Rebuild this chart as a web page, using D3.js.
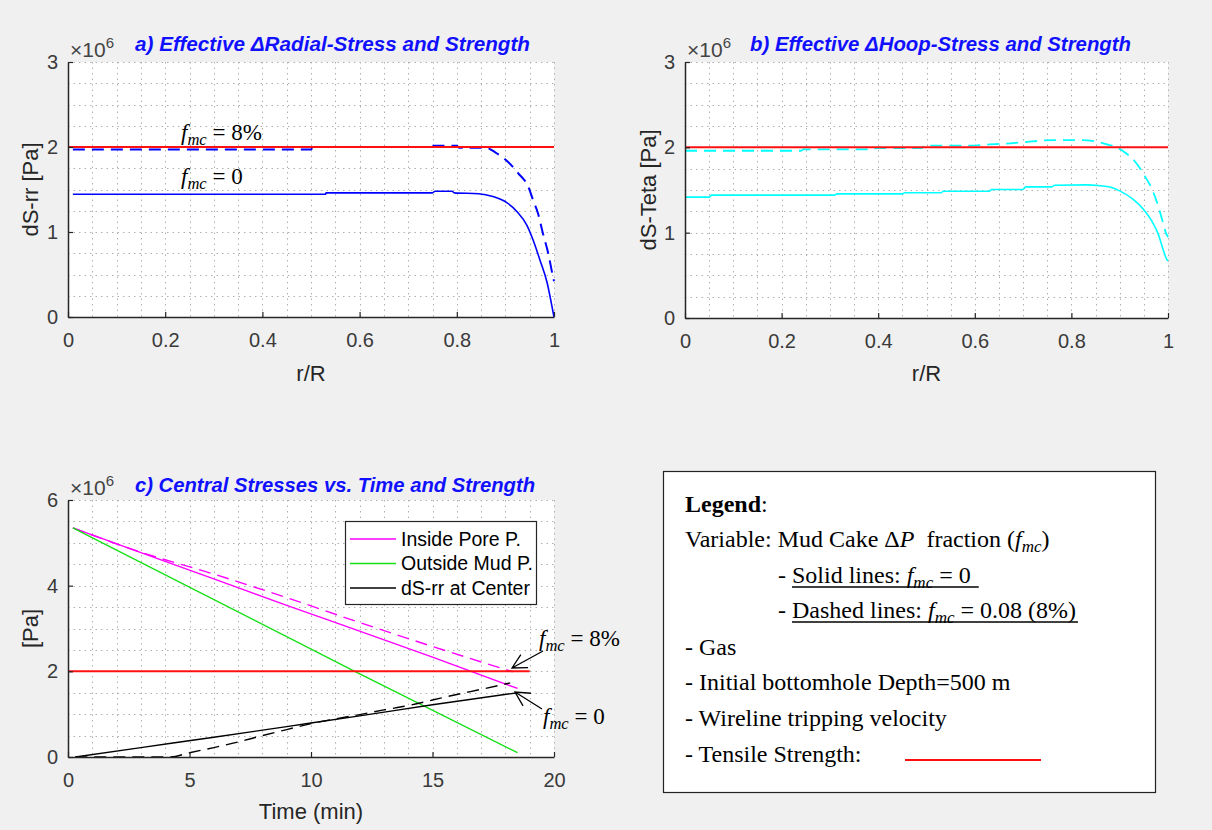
<!DOCTYPE html>
<html><head><meta charset="utf-8">
<script src="https://cdn.jsdelivr.net/npm/d3@7"></script>
<style>
html,body{margin:0;padding:0;background:#f0f0f0;}
svg{display:block;}
</style></head><body>
<svg id="fig" width="1212" height="830"></svg>
<script>
// ---- Data (stresses in units of 10^6 Pa) ----
// a) effective radial stress change vs r/R
const radialSolidR = [0.01, 0.53, 0.531, 0.75, 0.755, 0.79, 0.795, 0.845, 0.874, 0.903, 0.924, 0.944, 0.957, 0.971, 0.986, 0.998, 1.0];
const radialSolidS = [1.445, 1.445, 1.46, 1.46, 1.48, 1.48, 1.46, 1.45, 1.418, 1.345, 1.239, 1.082, 0.906, 0.671, 0.40, 0.059, 0.0];
const radialDashR = [0.01, 0.5, 0.505, 0.735, 0.74, 0.80, 0.805, 0.86, 0.879, 0.905, 0.926, 0.947, 0.957, 0.967, 0.977, 0.988, 0.998, 1.0];
const radialDashS = [1.97, 1.97, 2.0, 2.0, 2.015, 2.015, 1.99, 1.99, 1.938, 1.827, 1.694, 1.533, 1.376, 1.22, 0.988, 0.753, 0.47, 0.42];

// b) effective hoop stress change vs r/R
const hoopSolidR = [0.0, 0.05, 0.055, 0.31, 0.315, 0.45, 0.455, 0.53, 0.535, 0.63, 0.635, 0.70, 0.705, 0.76, 0.765, 0.83, 0.86, 0.88, 0.90, 0.928, 0.949, 0.966, 0.98, 0.99, 0.997, 1.0];
const hoopSolidS = [1.416, 1.416, 1.44, 1.44, 1.455, 1.455, 1.467, 1.467, 1.486, 1.486, 1.506, 1.506, 1.537, 1.537, 1.556, 1.56, 1.55, 1.535, 1.49, 1.39, 1.275, 1.14, 0.98, 0.80, 0.69, 0.67];
const hoopDashR = [0.0, 0.24, 0.245, 0.39, 0.395, 0.49, 0.495, 0.60, 0.62, 0.68, 0.72, 0.76, 0.82, 0.85, 0.87, 0.894, 0.911, 0.935, 0.95, 0.966, 0.977, 0.987, 0.997, 1.0];
const hoopDashS = [1.96, 1.96, 1.975, 1.975, 1.99, 1.99, 2.02, 2.02, 2.03, 2.05, 2.07, 2.085, 2.085, 2.07, 2.04, 2.0, 1.94, 1.81, 1.68, 1.52, 1.36, 1.17, 0.98, 0.95];

// c) central stresses vs time (min)
const poreSolidT = [0.2, 3, 6, 9, 12, 15, 18.5];
const poreSolidP = [5.35, 4.77, 4.16, 3.54, 2.94, 2.33, 1.60];
const poreDashT = [0.2, 3, 6, 9, 12, 15, 18.3];
const poreDashP = [5.35, 4.78, 4.27, 3.72, 3.14, 2.58, 1.99];
const mudT = [0.2, 11.8, 18.5];
const mudP = [5.35, 2.0, 0.1];
const centerSolidT = [0.3, 3, 6, 9, 12, 15, 18.5];
const centerSolidS = [0.0, 0.22, 0.46, 0.71, 0.96, 1.22, 1.50];
const centerDashT = [0.3, 4.2, 5, 6, 7, 8, 9, 10, 11, 12, 13, 14, 15, 16, 17, 18.2];
const centerDashS = [0.0, 0.0, 0.1, 0.22, 0.35, 0.5, 0.64, 0.78, 0.89, 0.99, 1.1, 1.2, 1.33, 1.46, 1.58, 1.73];

// tensile strength
const strengthValue = 2.0;
const strengthSpanR = [0, 1];
const strengthSpanT = [0, 19];

// ticks
const rTicks = [0, 0.2, 0.4, 0.6, 0.8, 1];
const stressTicksAB = [0, 1, 2, 3];
const timeTicks = [0, 5, 10, 15, 20];
const stressTicksC = [0, 2, 4, 6];

const legendLabels = ["Inside Pore P.", "Outside Mud P.", "dS-rr at Center"];
const legendColors = ["#ff00ff", "#16e016", "#000000"];

// ---- Drawing ----
const svg = d3.select("#fig");
svg.append("rect").attr("width", 1212).attr("height", 830).attr("fill", "#f0f0f0");

const AXIS_COL = "#262626";
const SANS = "'Liberation Sans', Arial, sans-serif";
const SERIF = "'Liberation Serif', 'Times New Roman', serif";

function makePanel(o) {
  const x = d3.scaleLinear().domain(o.xDomain).range([o.left, o.right]);
  const y = d3.scaleLinear().domain(o.yDomain).range([o.bottom, o.top]);
  const g = svg.append("g");
  g.append("rect").attr("x", o.left).attr("y", o.top)
    .attr("width", o.right - o.left).attr("height", o.bottom - o.top).attr("fill", "#fff");

  const xMinor = d3.range(o.xDomain[0], o.xDomain[1] + 1e-9, o.xMinor);
  const yMinor = d3.range(o.yDomain[0], o.yDomain[1] + 1e-9, o.yMinor);
  const grid = g.append("g").attr("stroke", "#b0b0b0").attr("stroke-width", 1).attr("stroke-dasharray", "1.5,4");
  grid.selectAll("line.gx").data(xMinor).join("line")
    .attr("x1", d => Math.round(x(d)) + 0.5).attr("x2", d => Math.round(x(d)) + 0.5)
    .attr("y1", o.top).attr("y2", o.bottom);
  grid.selectAll("line.gy").data(yMinor).join("line")
    .attr("y1", d => Math.round(y(d)) + 0.5).attr("y2", d => Math.round(y(d)) + 0.5)
    .attr("x1", o.left).attr("x2", o.right);

  return { g, x, y };
}

function drawSeries(p, xs, ys, color, dashed, width) {
  const pts = xs.map((v, i) => [v, ys[i]]);
  p.g.append("path").datum(pts)
    .attr("fill", "none").attr("stroke", color).attr("stroke-width", width)
    .attr("stroke-dasharray", dashed ? "12,7" : null)
    .attr("d", d3.line().x(d => p.x(d[0])).y(d => p.y(d[1])).curve(d3.curveMonotoneX));
}

function drawStrength(p, span) {
  p.g.append("path").datum(span.map(v => [v, strengthValue]))
    .attr("fill", "none").attr("stroke", "#ff1010").attr("stroke-width", 2)
    .attr("d", d3.line().x(d => p.x(d[0])).y(d => p.y(d[1])));
}

function drawAxes(p, o) {
  const fmt = d3.format("~g");
  const ax = p.g.append("g").attr("transform", `translate(0,${o.bottom})`)
    .call(d3.axisBottom(p.x).tickValues(o.xTicks).tickFormat(fmt).tickSizeInner(-5).tickSizeOuter(0).tickPadding(16));
  const ay = p.g.append("g").attr("transform", `translate(${o.left},0)`)
    .call(d3.axisLeft(p.y).tickValues(o.yTicks).tickFormat(fmt).tickSizeInner(-5).tickSizeOuter(0).tickPadding(10));
  [ax, ay].forEach(a => {
    a.select(".domain").attr("stroke", AXIS_COL).attr("stroke-width", 1.5);
    a.selectAll(".tick line").attr("stroke", AXIS_COL).attr("stroke-width", 1.2);
    a.selectAll("text").attr("fill", "#3a3a3a").style("font-family", SANS).style("font-size", "20px");
  });
  // exponent label
  const ex = p.g.append("text").attr("x", o.left + 2).attr("y", o.top - 5)
    .attr("fill", "#444").style("font-family", SANS).style("font-size", "21px");
  ex.append("tspan").text("\u00d710");
  ex.append("tspan").attr("dy", -9).style("font-size", "15px").text("6");
  // axis labels
  p.g.append("text").attr("transform", `translate(${o.ylabelX},${(o.top + o.bottom) / 2}) rotate(-90)`)
    .attr("text-anchor", "middle").attr("dy", "0.35em").attr("fill", AXIS_COL)
    .style("font-family", SANS).style("font-size", "22px").text(o.ylabel);
  p.g.append("text").attr("x", (o.left + o.right) / 2).attr("y", o.xlabelY)
    .attr("text-anchor", "middle").attr("dy", "0.35em").attr("fill", AXIS_COL)
    .style("font-family", SANS).style("font-size", "22px").text(o.xlabel);
  // title
  p.g.append("text").attr("x", o.titleX).attr("y", o.titleY)
    .attr("textLength", o.titleW).attr("lengthAdjust", "spacingAndGlyphs")
    .attr("fill", "#1010ff").style("font-family", SANS).style("font-size", "21px")
    .style("font-weight", "bold").style("font-style", "italic").text(o.title);
}

function fmcLabel(parent, x, y, rhs, size) {
  const t = parent.append("text").attr("x", x).attr("y", y).attr("fill", "#000")
    .style("font-family", SERIF).style("font-size", size + "px").style("white-space", "pre");
  t.append("tspan").style("font-style", "italic").text("f");
  t.append("tspan").style("font-style", "italic").attr("dy", size * 0.22).style("font-size", (size * 0.72) + "px").text("mc");
  t.append("tspan").attr("dy", -size * 0.22).text(" = " + rhs);
  return t;
}

function arrow(parent, x1, y1, x2, y2) {
  // shaft from (x1,y1) to the tip (x2,y2) with an open head
  const ang = Math.atan2(y1 - y2, x1 - x2);
  const L = 16, A = Math.PI / 6.5;
  const path = d3.path();
  path.moveTo(x1, y1); path.lineTo(x2, y2);
  path.moveTo(x2 + L * Math.cos(ang + A), y2 + L * Math.sin(ang + A)); path.lineTo(x2, y2);
  path.lineTo(x2 + L * Math.cos(ang - A), y2 + L * Math.sin(ang - A));
  parent.append("path").attr("d", path.toString()).attr("fill", "none").attr("stroke", "#000").attr("stroke-width", 1.3);
}

// Panel a
const oa = { left: 68, right: 554, top: 62, bottom: 317, xDomain: [0, 1], yDomain: [0, 3], xMinor: 0.05, yMinor: 0.25,
  xTicks: rTicks, yTicks: stressTicksAB, ylabel: "dS-rr [Pa]", xlabel: "r/R", ylabelX: 30, xlabelY: 373,
  title: "a) Effective \u0394Radial-Stress and Strength", titleX: 135, titleY: 51, titleW: 395 };
const pa = makePanel(oa);
drawSeries(pa, radialSolidR, radialSolidS, "#0000ff", false, 1.6);
drawSeries(pa, radialDashR, radialDashS, "#0000ff", true, 2);
drawStrength(pa, strengthSpanR);
drawAxes(pa, oa);
fmcLabel(svg, 181, 140, "8%", 23);
fmcLabel(svg, 181, 184, "0", 23);

// Panel b
const ob = { left: 685, right: 1168, top: 62, bottom: 318, xDomain: [0, 1], yDomain: [0, 3], xMinor: 0.05, yMinor: 0.25,
  xTicks: rTicks, yTicks: stressTicksAB, ylabel: "dS-Teta [Pa]", xlabel: "r/R", ylabelX: 648, xlabelY: 373,
  title: "b) Effective \u0394Hoop-Stress and Strength", titleX: 750, titleY: 51, titleW: 381 };
const pb = makePanel(ob);
drawSeries(pb, hoopSolidR, hoopSolidS, "#00ffff", false, 1.6);
drawSeries(pb, hoopDashR, hoopDashS, "#00ffff", true, 1.8);
drawStrength(pb, strengthSpanR);
drawAxes(pb, ob);

// Panel c
const oc = { left: 68, right: 554, top: 500, bottom: 757, xDomain: [0, 20], yDomain: [0, 6], xMinor: 1, yMinor: 0.5,
  xTicks: timeTicks, yTicks: stressTicksC, ylabel: "[Pa]", xlabel: "Time (min)", ylabelX: 30, xlabelY: 811,
  title: "c) Central Stresses vs. Time and Strength", titleX: 135, titleY: 492, titleW: 400 };
const pc = makePanel(oc);
drawSeries(pc, poreSolidT, poreSolidP, legendColors[0], false, 1.4);
drawSeries(pc, poreDashT, poreDashP, legendColors[0], true, 1.4);
drawSeries(pc, mudT, mudP, legendColors[1], false, 1.4);
drawSeries(pc, centerSolidT, centerSolidS, legendColors[2], false, 1.4);
drawSeries(pc, centerDashT, centerDashS, legendColors[2], true, 1.4);
drawStrength(pc, strengthSpanT);
drawAxes(pc, oc);

// legend inside panel c
const lg = svg.append("g");
lg.append("rect").attr("x", 345.5).attr("y", 521.5).attr("width", 191).attr("height", 83)
  .attr("fill", "#fff").attr("stroke", AXIS_COL).attr("stroke-width", 1.2);
legendLabels.forEach((lab, i) => {
  const yy = 539 + i * 24.5;
  lg.append("line").attr("x1", 350).attr("x2", 396).attr("y1", yy).attr("y2", yy)
    .attr("stroke", legendColors[i]).attr("stroke-width", 1.4);
  lg.append("text").attr("x", 401).attr("y", yy).attr("dy", "0.35em").attr("fill", "#000")
    .style("font-family", SANS).style("font-size", "19.5px").text(lab);
});

// arrows with f_mc labels in panel c
fmcLabel(svg, 539, 646, "8%", 23);
arrow(svg, 543, 651, 512, 668);
fmcLabel(svg, 543, 724, "0", 23);
arrow(svg, 542, 709, 515, 692);

// ---- Text legend box ----
const box = svg.append("g").style("font-family", SERIF).style("font-size", "24px").attr("fill", "#000");
box.append("rect").attr("x", 663.5).attr("y", 471.5).attr("width", 492).attr("height", 321)
  .attr("fill", "#fff").attr("stroke", "#222").attr("stroke-width", 1.2);

const l1 = box.append("text").attr("x", 685).attr("y", 512);
l1.append("tspan").style("font-weight", "bold").text("Legend");
l1.append("tspan").text(":");

const l2 = box.append("text").attr("x", 685).attr("y", 547).style("white-space", "pre");
l2.append("tspan").text("Variable: Mud Cake \u0394");
l2.append("tspan").style("font-style", "italic").text("P");
l2.append("tspan").text("  fraction (");
l2.append("tspan").style("font-style", "italic").text("f");
l2.append("tspan").style("font-style", "italic").style("font-size", "17px").attr("dy", 5).text("mc");
l2.append("tspan").attr("dy", -5).text(")");

function underlinedLine(y, head, rhs) {
  box.append("text").attr("x", 778).attr("y", y).text("-");
  const u = box.append("text").attr("x", 792).attr("y", y).style("white-space", "pre");
  u.append("tspan").text(head);
  u.append("tspan").style("font-style", "italic").text("f");
  u.append("tspan").style("font-style", "italic").style("font-size", "17px").attr("dy", 5).text("mc");
  u.append("tspan").attr("dy", -5).text(rhs);
  const w = u.node().getComputedTextLength();
  box.append("line").attr("x1", 792).attr("x2", 792 + w + 2)
    .attr("y1", y + 4).attr("y2", y + 4).attr("stroke", "#000").attr("stroke-width", 1.6);
}
underlinedLine(583, "Solid lines: ", " = 0 ");
underlinedLine(618, "Dashed lines: ", " = 0.08 (8%)");

box.append("text").attr("x", 685).attr("y", 655).text("- Gas");
box.append("text").attr("x", 685).attr("y", 690).text("- Initial bottomhole Depth=500 m");
box.append("text").attr("x", 685).attr("y", 726).text("- Wireline tripping velocity");
box.append("text").attr("x", 685).attr("y", 762).text("- Tensile Strength:");
box.append("line").attr("x1", 905).attr("x2", 1041).attr("y1", 760).attr("y2", 760)
  .attr("stroke", "#ff1010").attr("stroke-width", 2);
</script>
</body></html>
